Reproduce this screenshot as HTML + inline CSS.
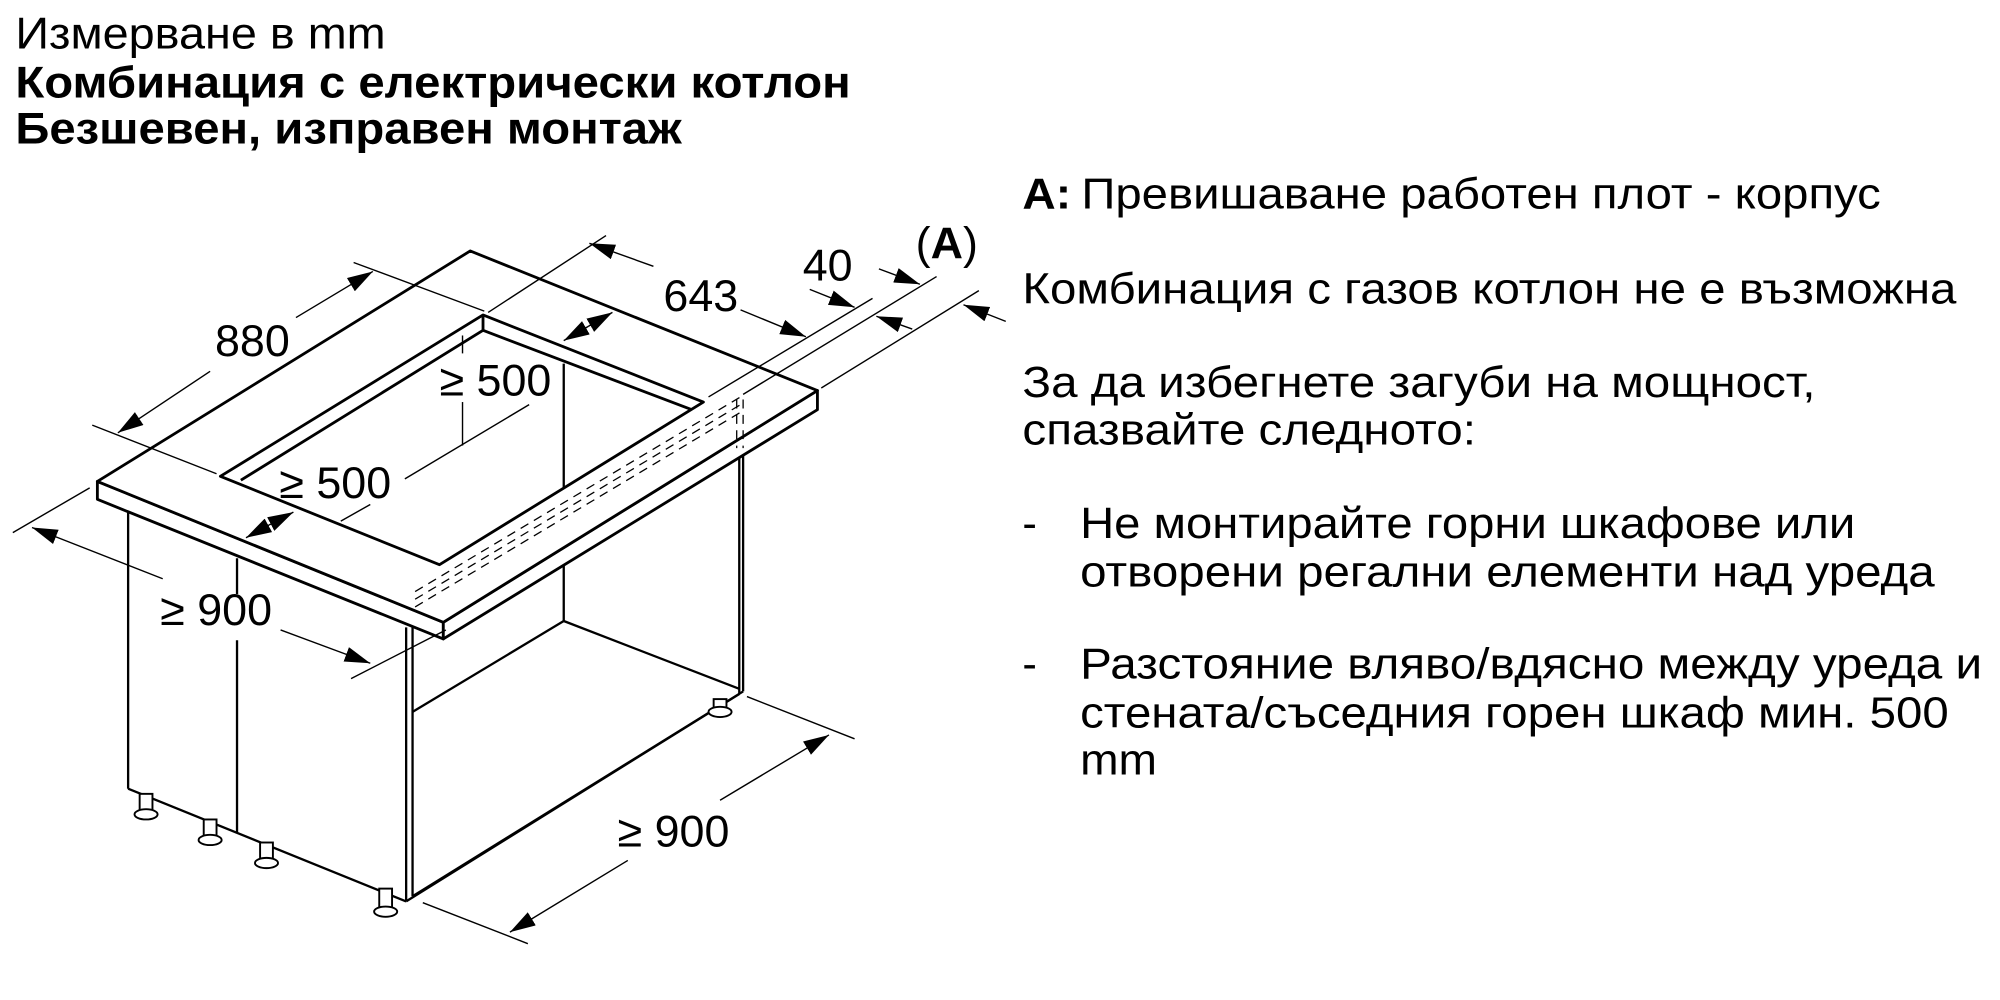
<!DOCTYPE html>
<html><head><meta charset="utf-8"><style>
html,body{margin:0;padding:0;background:#fff;width:2000px;height:1000px;overflow:hidden}
svg{display:block}
text{font-family:"Liberation Sans",Arial,sans-serif;fill:#000}
</style></head><body>
<svg width="2000" height="1000" viewBox="0 0 1561 781" preserveAspectRatio="none" xmlns="http://www.w3.org/2000/svg">
<defs>
<marker id="a" markerUnits="userSpaceOnUse" markerWidth="22" markerHeight="14" refX="20" refY="6" orient="auto">
<path d="M0,0 L20,6 L0,12 Z" fill="#000"/>
</marker>
</defs>
<g font-size="35">
<text x="12" y="38" textLength="289" lengthAdjust="spacingAndGlyphs">Измерване в mm</text>
<text x="12" y="76" font-weight="bold" textLength="652" lengthAdjust="spacingAndGlyphs">Комбинация с електрически котлон</text>
<text x="12" y="112" font-weight="bold" textLength="520" lengthAdjust="spacingAndGlyphs">Безшевен, изправен монтаж</text>
</g>
<g font-size="34">
<text x="798" y="163" font-weight="bold" textLength="38" lengthAdjust="spacingAndGlyphs">A:</text>
<text x="844" y="163" textLength="624" lengthAdjust="spacingAndGlyphs">Превишаване работен плот - корпус</text>
<text x="798" y="237" textLength="729" lengthAdjust="spacingAndGlyphs">Комбинация с газов котлон не е възможна</text>
<text x="798" y="310" textLength="619" lengthAdjust="spacingAndGlyphs">За да избегнете загуби на мощност,</text>
<text x="798" y="347" textLength="354" lengthAdjust="spacingAndGlyphs">спазвайте следното:</text>
<text x="798" y="420">-</text>
<text x="843" y="420" textLength="605" lengthAdjust="spacingAndGlyphs">Не монтирайте горни шкафове или</text>
<text x="843" y="458" textLength="667" lengthAdjust="spacingAndGlyphs">отворени регални елементи над уреда</text>
<text x="798" y="530">-</text>
<text x="843" y="530" textLength="704" lengthAdjust="spacingAndGlyphs">Разстояние вляво/вдясно между уреда и</text>
<text x="843" y="568" textLength="678" lengthAdjust="spacingAndGlyphs">стената/съседния горен шкаф мин. 500</text>
<text x="843" y="605" textLength="60" lengthAdjust="spacingAndGlyphs">mm</text>
</g>
<g stroke="#000" stroke-width="1.8" fill="none" stroke-linejoin="round">
<line x1="100" y1="400" x2="100" y2="616"/>
<line x1="100" y1="616" x2="317" y2="704"/>
<line x1="317" y1="490" x2="317" y2="704"/>
<line x1="322" y1="490" x2="322" y2="700"/>
<line x1="317" y1="704" x2="577" y2="542"/>
<line x1="322" y1="700" x2="580" y2="540"/>
<line x1="577" y1="318" x2="577" y2="542"/>
<line x1="580" y1="318" x2="580" y2="540"/>
<line x1="440" y1="284" x2="440" y2="485"/>
<line x1="322" y1="556" x2="440" y2="485"/>
<line x1="440" y1="485" x2="577" y2="538"/>
<line x1="185" y1="436" x2="185" y2="464"/>
<line x1="185" y1="500" x2="185" y2="650"/>
</g>
<g stroke="#000" stroke-width="1.5" fill="#fff">
<rect x="109" y="620" width="10" height="14"/><ellipse cx="114" cy="636" rx="9" ry="4"/>
<rect x="159" y="640" width="10" height="14"/><ellipse cx="164" cy="656" rx="9" ry="4"/>
<rect x="203" y="658" width="10" height="14"/><ellipse cx="208" cy="674" rx="9" ry="4"/>
<rect x="296" y="694" width="10" height="16"/><ellipse cx="301" cy="712" rx="9" ry="4"/>
<rect x="557" y="546" width="10" height="8"/><ellipse cx="562" cy="556" rx="9" ry="4"/>
</g>
<g stroke="#000" stroke-width="2.2" fill="#fff" stroke-linejoin="round">
<path d="M76,376 L346,486 L346,499 L76,390 Z"/>
<path d="M346,486 L638,305 L638,320 L346,499 Z"/>
<path d="M367,196 L638,305 L346,486 L76,376 Z M377,246 L172,372 L343,441 L549,314 Z" fill-rule="evenodd"/>
<path d="M377,246 L377,258 L188,375" fill="none"/>
<path d="M377,258 L540,320" fill="none"/>
</g>
<g stroke="#000" stroke-width="1" stroke-dasharray="7,5" fill="none">
<line x1="324" y1="462" x2="578" y2="310"/>
<line x1="324" y1="468" x2="578" y2="316"/>
<line x1="324" y1="474" x2="578" y2="322"/>
<line x1="575" y1="312" x2="575" y2="350"/>
<line x1="580" y1="312" x2="580" y2="350"/>
</g>
<g stroke="#000" stroke-width="1.1" fill="none">
<line x1="72" y1="332" x2="169" y2="370"/>
<line x1="276" y1="205" x2="378" y2="243"/>
<line x1="164" y1="290" x2="92" y2="338" marker-end="url(#a)"/>
<line x1="231" y1="248" x2="291" y2="212" marker-end="url(#a)"/>
<line x1="473" y1="184" x2="381" y2="244"/>
<line x1="510" y1="208" x2="460" y2="190" marker-end="url(#a)"/>
<line x1="578" y1="242" x2="629" y2="263" marker-end="url(#a)"/>
<line x1="459" y1="255" x2="440" y2="266" marker-end="url(#a)"/>
<line x1="459" y1="255" x2="478" y2="244" marker-end="url(#a)"/>
<line x1="210" y1="410" x2="192" y2="420" marker-end="url(#a)"/>
<line x1="210" y1="410" x2="229" y2="400" marker-end="url(#a)"/>
<line x1="553" y1="310" x2="681" y2="233"/>
<line x1="580" y1="308" x2="731" y2="216"/>
<line x1="641" y1="303" x2="764" y2="227"/>
<line x1="632" y1="226" x2="667" y2="240" marker-end="url(#a)"/>
<line x1="712" y1="257" x2="684" y2="247" marker-end="url(#a)"/>
<line x1="686" y1="210" x2="718" y2="222" marker-end="url(#a)"/>
<line x1="785" y1="251" x2="752" y2="238" marker-end="url(#a)"/>
<line x1="70" y1="381" x2="10" y2="416"/>
<line x1="274" y1="530" x2="348" y2="492"/>
<line x1="127" y1="452" x2="25" y2="412" marker-end="url(#a)"/>
<line x1="219" y1="492" x2="289" y2="518" marker-end="url(#a)"/>
<line x1="583" y1="544" x2="667" y2="577"/>
<line x1="330" y1="705" x2="412" y2="737"/>
<line x1="490" y1="672" x2="398" y2="728" marker-end="url(#a)"/>
<line x1="562" y1="625" x2="647" y2="574" marker-end="url(#a)"/>
<line x1="361" y1="262" x2="361" y2="276"/>
<line x1="361" y1="314" x2="361" y2="348"/>
<line x1="266" y1="407" x2="289" y2="394"/>
<line x1="316" y1="374" x2="413" y2="316"/>
</g>
<g font-size="35">
<text x="197" y="278" text-anchor="middle">880</text>
<text x="547" y="243" text-anchor="middle">643</text>
<text x="646" y="219" text-anchor="middle">40</text>
<text x="739" y="202" text-anchor="middle">(<tspan font-weight="bold">A</tspan>)</text>
<text x="343" y="309">≥ 500</text>
<text x="218" y="389">≥ 500</text>
<text x="125" y="488">≥ 900</text>
<text x="482" y="661">≥ 900</text>
</g>
</svg>
</body></html>
